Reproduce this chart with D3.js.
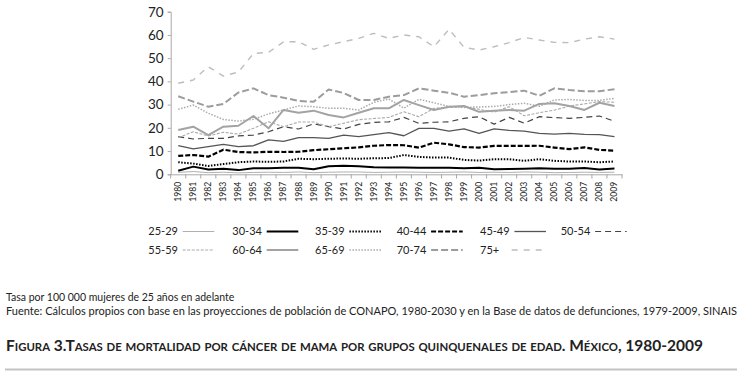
<!DOCTYPE html>
<html><head><meta charset="utf-8">
<script src="https://cdn.jsdelivr.net/npm/d3@7/dist/d3.min.js"></script>
<style>
html,body{margin:0;padding:0;background:#fff;}
svg{display:block;}
text{font-family:Lato,"Open Sans",sans-serif;fill:#222;}
</style></head>
<body>
<svg id="chart" width="742" height="378"></svg>
<script>
const years = d3.range(1980, 2010).map(String);
const yTicks = [0,10,20,30,40,50,60,70];
const groups = ["25-29","30-34","35-39","40-44","45-49","50-54","55-59","60-64","65-69","70-74","75+"];

const s25_29 = [0.8,1.2,0.7,0.9,0.6,0.8,0.9,0.8,1.0,0.7,0.9,1.0,1.0,0.8,0.9,1.0,0.9,0.8,0.9,1.0,0.8,0.9,0.8,1.0,0.9,0.7,0.8,0.9,0.8,0.9];
const s30_34 = [1.5,3.3,2.1,2.4,1.8,2.6,2.6,2.8,2.8,2.2,3.5,3.7,3.5,3.0,2.9,2.9,2.8,2.8,2.8,2.6,2.8,2.2,2.3,2.4,2.6,2.4,2.4,2.7,2.1,2.5];
const s35_39 = [5.2,4.6,3.6,4.4,5.2,5.5,5.4,5.5,6.7,6.5,6.7,6.8,6.7,6.9,7.0,8.3,7.5,7.2,7.2,6.2,5.9,6.5,6.5,5.8,6.5,5.8,5.5,5.5,5.2,5.5];
const s40_44 = [7.9,8.3,7.6,10.6,9.6,9.4,9.7,9.6,9.7,10.4,10.8,11.2,11.6,12.3,12.6,12.5,11.5,13.6,12.9,11.7,11.5,12.2,12.2,12.2,12.3,11.5,10.8,11.6,10.5,10.2];
const s45_49 = [12.3,10.9,11.9,12.9,11.9,12.3,14.8,14.2,15.8,15.8,15.5,16.9,16.2,17.1,17.9,16.6,19.8,19.8,18.6,19.6,17.6,19.6,18.9,18.6,17.6,17.3,17.6,17.2,17.1,16.2];
const s50_54 = [16.2,15.2,15.5,15.5,16.5,16.9,18.3,20.5,19.5,21.7,20.5,19.5,21.5,22.3,22.6,24.5,21.9,22.4,22.6,24.1,24.8,21.6,24.5,22.0,24.8,24.4,24.1,24.5,25.1,22.8];
const s55_59 = [15.8,18.3,16.5,18.1,17.3,19.8,22.6,20.5,22.5,22.5,20.5,22.0,23.5,24.0,24.5,26.9,24.8,28.4,28.8,29.1,28.0,26.8,29.1,25.2,26.5,27.6,29.4,30.3,31.3,31.0];
const s60_64 = [19.1,20.5,16.9,20.5,20.9,25.1,19.8,27.7,26.5,27.4,25.5,24.5,26.5,28.4,28.4,32.0,29.8,27.7,29.1,29.4,26.9,27.4,27.7,27.4,30.3,30.6,29.4,27.7,30.8,29.4];
const s65_69 = [28.0,29.8,26.3,23.6,22.9,23.7,26.0,27.7,29.4,29.1,28.4,28.4,27.7,31.0,32.4,28.5,32.3,30.8,29.2,28.8,29.0,29.2,30.0,30.6,29.3,32.0,32.2,31.8,31.8,32.7];
const s70_74 = [33.6,31.3,29.1,30.3,35.2,37.0,34.1,33.0,31.6,31.2,36.5,35.0,32.0,32.0,33.4,34.1,37.0,36.0,35.1,33.4,34.1,34.9,35.4,36.0,33.8,37.0,36.3,35.8,35.8,36.6];
const s75 = [39.2,40.6,46.3,42.3,44.0,52.0,52.5,57.0,57.1,53.8,55.7,57.1,58.5,60.7,58.5,60.0,59.2,54.9,62.4,54.7,53.5,54.9,56.7,58.9,57.8,56.8,56.7,58.2,59.2,58.2];

const seriesValues = [s25_29,s30_34,s35_39,s40_44,s45_49,s50_54,s55_59,s60_64,s65_69,s70_74,s75];

const styles = [
  {c:"#b0b0b0", w:1,   d:null},
  {c:"#000",    w:2,   d:null},
  {c:"#000",    w:2,   d:"1.5,1.5"},
  {c:"#000",    w:2.2, d:"5,2"},
  {c:"#555",    w:1.3, d:null},
  {c:"#444",    w:1.2, d:"6,4"},
  {c:"#aaa",    w:1.1, d:"3,1.5"},
  {c:"#a3a3a3", w:2,   d:null},
  {c:"#aaa",    w:1.5, d:"1.5,1.5"},
  {c:"#9c9c9c", w:2,   d:"7,3"},
  {c:"#bdbdbd", w:1.4, d:"6,6"}
];

const svg = d3.select("#chart");
const x = d3.scaleBand().domain(years).range([170.7, 622]).padding(0);
const y = d3.scaleLinear().domain([0,70]).range([174.3, 11.7]);
const axisColor = "#a8a8a8";

// y axis
const gy = svg.append("g").attr("transform","translate(170.7,0)")
  .call(d3.axisLeft(y).tickValues(yTicks).tickSize(3).tickPadding(4));
gy.select(".domain").attr("stroke",axisColor);
gy.selectAll(".tick line").attr("stroke",axisColor);
gy.selectAll(".tick text").style("font-family","Lato, sans-serif").style("font-size","13.5px").attr("fill","#222");

// x axis
const gx = svg.append("g").attr("transform","translate(0,174.3)")
  .call(d3.axisBottom(x).tickSize(0).tickPadding(0));
gx.select(".domain").attr("stroke",axisColor);
gx.selectAll(".tick text")
  .style("font-family","Lato, sans-serif").style("font-size","8.6px").attr("fill","#222")
  .attr("transform","rotate(-90)").attr("text-anchor","end")
  .attr("x",-7.5).attr("y",0).attr("dy","0.34em");
// boundary ticks
const edges = years.map(v => x(v)).concat([x(years[years.length-1]) + x.bandwidth()]);
svg.append("g").selectAll("line").data(edges).join("line")
  .attr("x1",d=>d).attr("x2",d=>d).attr("y1",174.3).attr("y2",178.5)
  .attr("stroke",axisColor).attr("stroke-width",1);

// lines
const line = d3.line().x((d,i)=>x(years[i]) + x.bandwidth()/2).y(d=>y(d));
const order = [0,1,2,3,4,5,6,8,7,9,10];
svg.append("g").selectAll("path").data(order).join("path")
  .attr("d", k => line(seriesValues[k]))
  .attr("fill","none")
  .attr("stroke", k=>styles[k].c)
  .attr("stroke-width", k=>styles[k].w)
  .attr("stroke-dasharray", k=>styles[k].d)
  .attr("stroke-linejoin","round");

// legend
const colX = [148.3, 232.3, 315, 396.7, 480, 560.7];
const rowY = [231.5, 250];
const leg = svg.append("g");
groups.forEach((g,i)=>{
  const col = i % 6, row = Math.floor(i/6);
  const gx0 = colX[col], gy0 = rowY[row];
  leg.append("text").attr("x",gx0).attr("y",gy0).attr("dy","0.35em")
    .style("font-size","11px").attr("fill","#222").text(g);
  const lx1 = g === "75+" ? gx0 + 31.7 : gx0 + 34.4;
  const lx2 = g === "75+" ? gx0 + 61.7 : gx0 + 66;
  leg.append("line").attr("x1",lx1).attr("x2",lx2).attr("y1",gy0).attr("y2",gy0)
    .attr("stroke",styles[i].c).attr("stroke-width",styles[i].w)
    .attr("stroke-dasharray",styles[i].d);
});

// footer notes
svg.append("text").attr("x",6).attr("y",301).style("font-size","10.5px")
  .text("Tasa por 100 000 mujeres de 25 años en adelante");
svg.append("text").attr("x",6).attr("y",315).style("font-size","10.5px")
  .attr("textLength",731).attr("lengthAdjust","spacingAndGlyphs")
  .text("Fuente: Cálculos propios con base en las proyecciones de población de CONAPO, 1980-2030 y en la Base de datos de defunciones, 1979-2009, SINAIS");
svg.append("text").attr("x",6).attr("y",351).style("font-size","15px").style("font-weight","bold")
  .style("font-variant","small-caps").attr("fill","#1a1a1a")
  .attr("textLength",697).attr("lengthAdjust","spacingAndGlyphs")
  .text("Figura 3.Tasas de mortalidad por cáncer de mama por grupos quinquenales de edad. México, 1980-2009");
svg.append("line").attr("x1",5).attr("x2",737).attr("y1",369.5).attr("y2",369.5)
  .attr("stroke","#c4c4c4").attr("stroke-width",2);
</script>
</body></html>
